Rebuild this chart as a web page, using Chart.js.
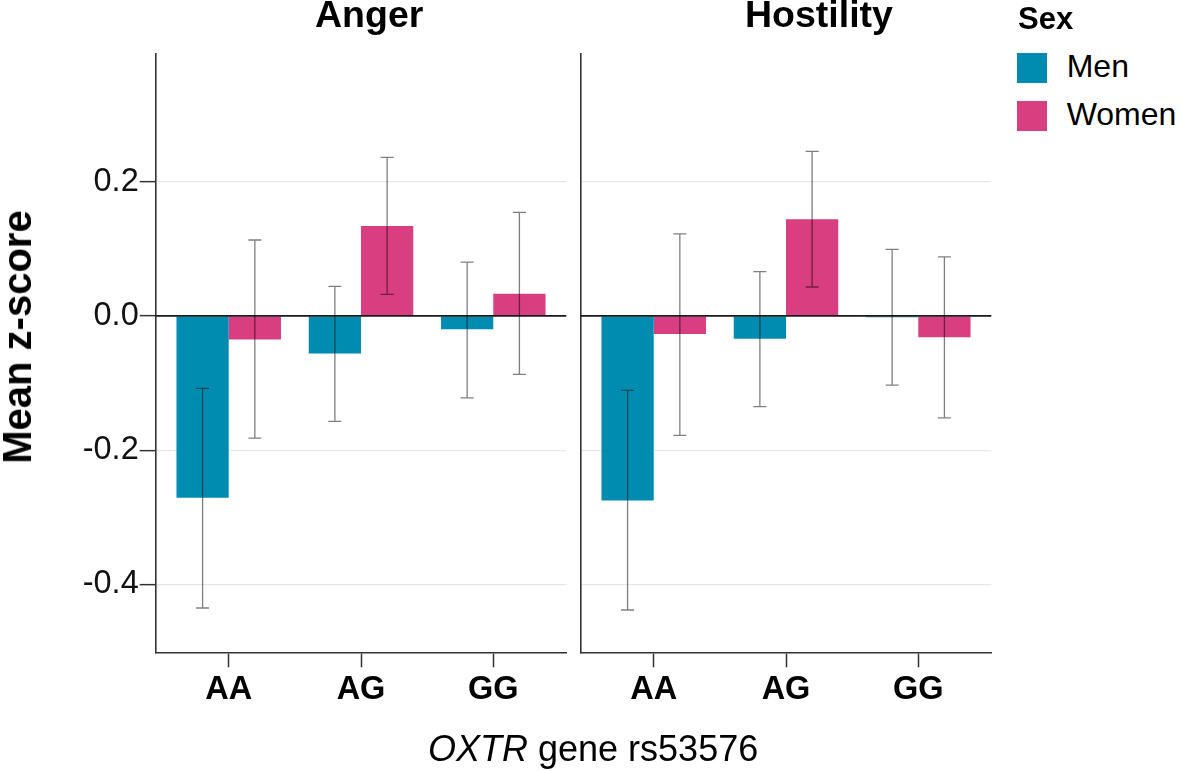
<!DOCTYPE html>
<html><head><meta charset="utf-8">
<script src="https://cdn.jsdelivr.net/npm/chart.js@4.4.1/dist/chart.umd.min.js"></script>
<style>
html,body{margin:0;padding:0;background:#fff;}
#wrap{position:relative;width:1181px;height:771px;overflow:hidden;font-family:"Liberation Sans",Arial,sans-serif;color:#000;}
canvas{position:absolute;top:0;}
.t{position:absolute;white-space:nowrap;line-height:1;}
.sq{position:absolute;width:30px;height:30px;}
</style></head><body>
<div id="wrap">
<canvas id="c1" width="575" height="771" style="left:0"></canvas>
<canvas id="c2" width="425" height="771" style="left:575px"></canvas>
<div class="t" style="left:315px;top:-3.7px;font-size:37.5px;font-weight:bold">Anger</div>
<div class="t" style="left:745px;top:-3.7px;font-size:37.5px;font-weight:bold">Hostility</div>
<div class="t" style="left:17px;top:336.5px;font-size:40px;font-weight:bold;transform:translate(-50%,-50%) rotate(-90deg)">Mean z-score</div>
<div class="t" style="left:428px;top:731.2px;font-size:36px"><i>OXTR</i> gene rs53576</div>
<div class="t" style="left:1018px;top:2.8px;font-size:31px;font-weight:bold">Sex</div>
<div class="sq" style="left:1017px;top:53px;background:#008cb0"></div>
<div class="sq" style="left:1017px;top:101px;background:#d83e80"></div>
<div class="t" style="left:1066.7px;top:49.6px;font-size:32px">Men</div>
<div class="t" style="left:1066.7px;top:97.9px;font-size:32px">Women</div>
</div>
<script>
// ---- data ----
const genotypes = ['AA', 'AG', 'GG'];
const seriesNames = ['Men', 'Women'];
const yTickValues = [-0.4, -0.2, 0, 0.2];

const angerMen      = [-0.271, -0.056, -0.020];
const angerMenLo    = [-0.435, -0.157, -0.122];
const angerMenHi    = [-0.108,  0.044,  0.080];
const angerWomen    = [-0.035,  0.134,  0.033];
const angerWomenLo  = [-0.182,  0.032, -0.087];
const angerWomenHi  = [ 0.113,  0.236,  0.154];

const hostMen       = [-0.275, -0.034, -0.002];
const hostMenLo     = [-0.438, -0.135, -0.103];
const hostMenHi     = [-0.111,  0.066,  0.099];
const hostWomen     = [-0.027,  0.144, -0.032];
const hostWomenLo   = [-0.178,  0.043, -0.152];
const hostWomenHi   = [ 0.122,  0.245,  0.088];

// ---- style ----
const FONT = '"Liberation Sans", Arial, sans-serif';
const MEN_COLOR = '#008cb0';
const WOMEN_COLOR = '#d83e80';
const Y_MIN = -0.501, Y_MAX = 0.39;
const X_MIN = 0.448, X_MAX = 3.552;

const errPlugin = {
  id: 'errbars',
  afterDatasetsDraw(chart) {
    const ctx = chart.ctx, y = chart.scales.y, area = chart.chartArea;
    ctx.save();
    const y0 = y.getPixelForValue(0);
    ctx.strokeStyle = '#1a1a1a';
    ctx.lineWidth = 1.6;
    ctx.beginPath();
    ctx.moveTo(area.left, y0);
    ctx.lineTo(area.right, y0);
    ctx.stroke();
    ctx.strokeStyle = 'rgba(0,0,0,0.5)';
    ctx.lineWidth = 1.3;
    chart.data.datasets.forEach((ds, i) => {
      const meta = chart.getDatasetMeta(i);
      meta.data.forEach((bar, j) => {
        const top = y.getPixelForValue(ds.errHi[j]);
        const bot = y.getPixelForValue(ds.errLo[j]);
        const x = bar.x, hw = 6.5;
        ctx.beginPath();
        ctx.moveTo(x - hw, top); ctx.lineTo(x + hw, top);
        ctx.moveTo(x, top); ctx.lineTo(x, bot);
        ctx.moveTo(x - hw, bot); ctx.lineTo(x + hw, bot);
        ctx.stroke();
      });
    });
    ctx.restore();
  }
};

function makePanel(id, men, menLo, menHi, women, womenLo, womenHi, showY, padLeft) {
  const mk = (vals) => genotypes.map((g, i) => ({x: i + 1, y: vals[i]}));
  return new Chart(document.getElementById(id), {
    type: 'bar',
    data: {
      datasets: [
        {label: seriesNames[0], data: mk(men), backgroundColor: MEN_COLOR, borderWidth: 0,
         errLo: menLo, errHi: menHi, categoryPercentage: 0.79, barPercentage: 1.0},
        {label: seriesNames[1], data: mk(women), backgroundColor: WOMEN_COLOR, borderWidth: 0,
         errLo: womenLo, errHi: womenHi, categoryPercentage: 0.79, barPercentage: 1.0}
      ]
    },
    options: {
      responsive: false,
      animation: false,
      events: [],
      layout: {padding: {top: 54, left: padLeft, right: 8.7, bottom: 58.7}},
      plugins: {legend: {display: false}, tooltip: {enabled: false}},
      scales: {
        x: {
          type: 'linear', min: X_MIN, max: X_MAX, offset: false,
          afterBuildTicks: ax => { ax.ticks = genotypes.map((g, i) => ({value: i + 1})); },
          afterFit: ax => { ax.height = 60; },
          grid: {offset: false, drawOnChartArea: false, drawTicks: true, tickLength: 15, tickColor: '#333', tickWidth: 1.5},
          border: {display: true, color: '#333', width: 1.6},
          ticks: {
            callback: v => genotypes[Math.round(v) - 1] || '',
            font: {family: FONT, size: 32.5, weight: 'bold'}, color: '#000',
            padding: 3, maxRotation: 0, autoSkip: false
          }
        },
        y: {
          min: Y_MIN, max: Y_MAX,
          afterBuildTicks: ax => { ax.ticks = yTickValues.map(v => ({value: v})); },
          afterFit: ax => { ax.width = showY ? 155.7 : 0; },
          grid: {color: '#e8e8e8', lineWidth: 1.3, drawTicks: showY, tickLength: 16, tickColor: '#333', tickWidth: 1.5},
          border: {display: true, color: '#333', width: 1.6},
          ticks: {
            display: showY,
            callback: v => Number(v).toFixed(1),
            font: {family: FONT, size: 32.5}, color: '#111', padding: 1
          }
        }
      }
    },
    plugins: [errPlugin]
  });
}

makePanel('c1', angerMen, angerMenLo, angerMenHi, angerWomen, angerWomenLo, angerWomenHi, true, 0);
makePanel('c2', hostMen, hostMenLo, hostMenHi, hostWomen, hostWomenLo, hostWomenHi, false, 5.7);
</script>
</body></html>
